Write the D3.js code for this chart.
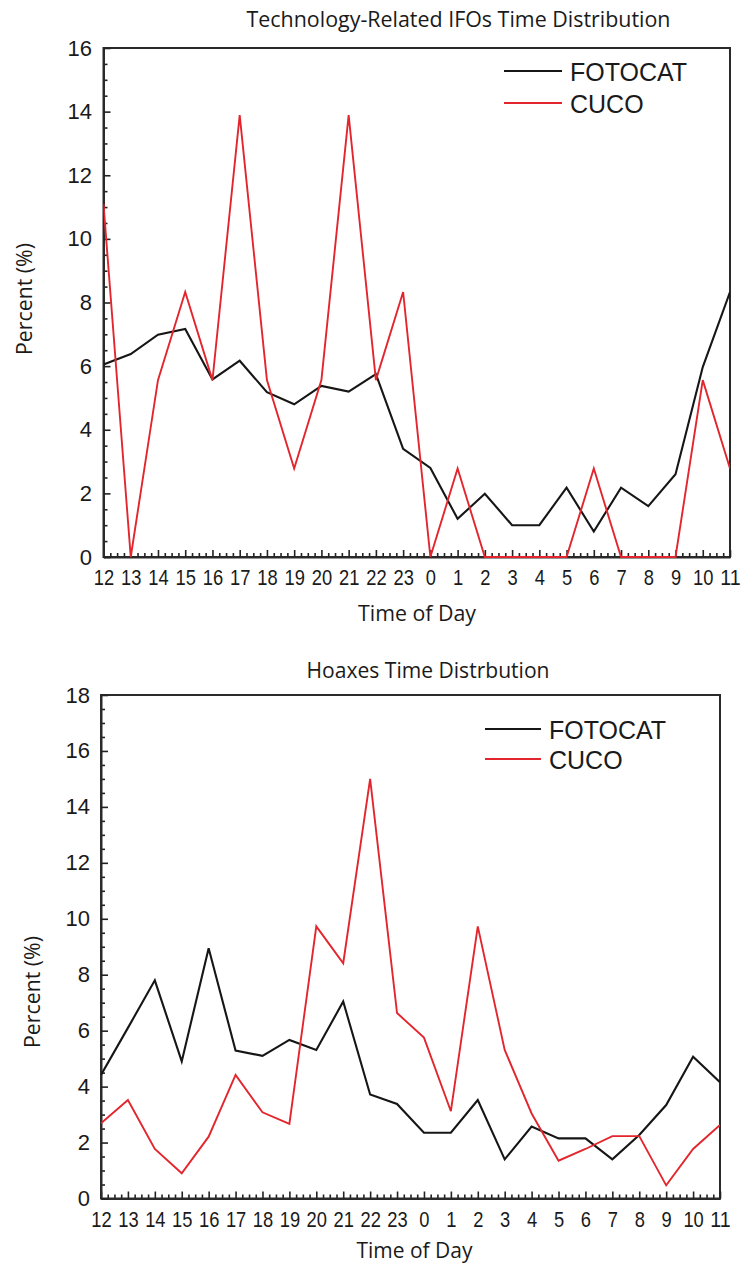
<!DOCTYPE html>
<html>
<head>
<meta charset="utf-8">
<script src="https://cdn.jsdelivr.net/npm/d3@7"></script>
<style>
  html, body { margin: 0; padding: 0; background: #fff; }
  svg { display: block; }
</style>
</head>
<body>
<svg id="chart" width="742" height="1266"></svg>
<script>
// ---------- DATA ----------
const hours = ["12","13","14","15","16","17","18","19","20","21","22","23","0","1","2","3","4","5","6","7","8","9","10","11"];
const seriesNames = ["FOTOCAT", "CUCO"];

const techTitle = "Technology-Related IFOs Time Distribution";
const techFotocat = [6.05, 6.38, 6.99, 7.17, 5.58, 6.17, 5.18, 4.8, 5.38, 5.2, 5.75, 3.4, 2.8, 1.2, 1.99, 1.0, 1.0, 2.18, 0.8, 2.18, 1.6, 2.6, 5.97, 8.33];
const techCuco    = [11.1, 0, 5.56, 8.33, 5.56, 13.89, 5.56, 2.78, 5.56, 13.89, 5.56, 8.33, 0, 2.78, 0, 0, 0, 0, 2.78, 0, 0, 0, 5.56, 2.78];
const techYTicks  = [0, 2, 4, 6, 8, 10, 12, 14, 16];

const hoaxTitle = "Hoaxes Time Distrbution";
const hoaxFotocat = [4.42, 6.1, 7.8, 4.9, 8.95, 5.29, 5.1, 5.67, 5.31, 7.04, 3.72, 3.38, 2.35, 2.35, 3.52, 1.4, 2.57, 2.15, 2.15, 1.4, 2.27, 3.34, 5.07, 4.16];
const hoaxCuco    = [2.69, 3.52, 1.77, 0.9, 2.21, 4.42, 3.08, 2.67, 9.73, 8.41, 15.0, 6.63, 5.75, 3.12, 9.73, 5.31, 3.04, 1.35, 1.77, 2.23, 2.23, 0.47, 1.77, 2.63];
const hoaxYTicks  = [0, 2, 4, 6, 8, 10, 12, 14, 16, 18];

const xLabel = "Time of Day";
const yLabel = "Percent (%)";

// ---------- DRAW ----------
const svg = d3.select("#chart");
const colors = { FOTOCAT: "#161616", CUCO: "#e3262e" };
const tickFont = "'Liberation Sans', Arial, sans-serif";
const labelFont = "'Open Sans', 'Noto Sans', sans-serif";

function panel(cfg) {
  const g = svg.append("g");
  const x = d3.scaleLinear().domain([0, hours.length - 1]).range([cfg.left, cfg.right]);
  const yMax = cfg.yTicks[cfg.yTicks.length - 1];
  const y = d3.scaleLinear().domain([0, yMax]).range([cfg.bottom, cfg.top]);

  // frame
  g.append("rect")
    .attr("x", cfg.left).attr("y", cfg.top)
    .attr("width", cfg.right - cfg.left).attr("height", cfg.bottom - cfg.top)
    .attr("fill", "none").attr("stroke", "#2a2a2a").attr("stroke-width", 2);

  // x minor ticks
  const xMinor = [];
  for (let i = 0; i < hours.length - 1; i++) for (let k = 1; k < 4; k++) xMinor.push(i + k / 4);
  const xMinorAxis = d3.axisBottom(x).tickValues(xMinor).tickSize(-4).tickSizeOuter(0).tickFormat("");
  const gxm = g.append("g").attr("transform", `translate(0,${cfg.bottom})`).call(xMinorAxis);
  gxm.select(".domain").remove();
  gxm.selectAll("line").attr("stroke", "#222").attr("stroke-width", 1.6);

  // x major ticks with labels
  const xAxis = d3.axisBottom(x).tickValues(d3.range(hours.length)).tickSize(-7).tickSizeOuter(0)
    .tickPadding(cfg.xPad).tickFormat(i => hours[i]);
  const gx = g.append("g").attr("transform", `translate(0,${cfg.bottom})`).call(xAxis);
  gx.select(".domain").attr("stroke", "#2a2a2a").attr("stroke-width", 2);
  gx.selectAll("line").attr("stroke", "#222").attr("stroke-width", 1.6);
  gx.selectAll("text")
    .attr("fill", "#1a1a1a")
    .style("font-family", tickFont).style("font-size", "22px")
    .attr("textLength", d => hours[d].length * 10.2)
    .attr("lengthAdjust", "spacingAndGlyphs");

  // y minor ticks
  const yMinor = d3.range(0, yMax, 0.5).filter(v => v % 2 !== 0);
  const yMinorAxis = d3.axisLeft(y).tickValues(yMinor).tickSize(-4).tickSizeOuter(0).tickFormat("");
  const gym = g.append("g").attr("transform", `translate(${cfg.left},0)`).call(yMinorAxis);
  gym.select(".domain").remove();
  gym.selectAll("line").attr("stroke", "#222").attr("stroke-width", 1.6);

  // y major
  const yAxis = d3.axisLeft(y).tickValues(cfg.yTicks).tickSize(-7).tickSizeOuter(0).tickPadding(cfg.yPad);
  const gy = g.append("g").attr("transform", `translate(${cfg.left},0)`).call(yAxis);
  gy.select(".domain").attr("stroke", "#2a2a2a").attr("stroke-width", 2);
  gy.selectAll("line").attr("stroke", "#222").attr("stroke-width", 1.6);
  gy.selectAll("text").attr("fill", "#1a1a1a")
    .style("font-family", tickFont).style("font-size", "22px");

  // lines
  const line = d3.line().x((d, i) => x(i)).y(d => y(d));
  const clipId = "clip" + cfg.id;
  g.append("clipPath").attr("id", clipId).append("rect")
    .attr("x", cfg.left).attr("y", cfg.top - 1)
    .attr("width", cfg.right - cfg.left).attr("height", cfg.bottom - cfg.top + 2);
  const series = [
    { name: "FOTOCAT", values: cfg.fotocat },
    { name: "CUCO", values: cfg.cuco }
  ];
  g.append("g").attr("clip-path", `url(#${clipId})`)
    .selectAll("path.series").data(series).join("path")
    .attr("class", "series")
    .attr("d", d => line(d.values))
    .attr("fill", "none")
    .attr("stroke", d => colors[d.name])
    .attr("stroke-width", d => d.name === "CUCO" ? 1.9 : 2.1)
    .attr("stroke-linejoin", "miter");

  // legend
  const lg = g.append("g");
  seriesNames.forEach((name, i) => {
    const ly = cfg.legY + i * cfg.legDy;
    lg.append("line")
      .attr("x1", cfg.legX).attr("x2", cfg.legX + cfg.legLen)
      .attr("y1", ly).attr("y2", ly)
      .attr("stroke", colors[name]).attr("stroke-width", 2);
    lg.append("text")
      .attr("x", cfg.legX + cfg.legLen + 8).attr("y", ly + 9.5)
      .attr("fill", "#1a1a1a")
      .style("font-family", tickFont).style("font-size", "25px")
      .text(name);
  });

  // title
  g.append("text")
    .attr("x", cfg.titleX).attr("y", cfg.titleY)
    .attr("text-anchor", "middle").attr("fill", "#1a1a1a")
    .style("font-family", labelFont).style("font-size", "21px")
    .attr("textLength", cfg.titleW).attr("lengthAdjust", "spacingAndGlyphs")
    .text(cfg.title);

  // x label
  g.append("text")
    .attr("x", cfg.xlabX).attr("y", cfg.xlabY)
    .attr("text-anchor", "middle").attr("fill", "#1a1a1a")
    .style("font-family", labelFont).style("font-size", "22px")
    .attr("textLength", cfg.xlabW).attr("lengthAdjust", "spacingAndGlyphs")
    .text(xLabel);

  // y label
  g.append("text")
    .attr("transform", `translate(${cfg.ylabX},${cfg.ylabY}) rotate(-90)`)
    .attr("text-anchor", "middle").attr("fill", "#1a1a1a")
    .style("font-family", labelFont).style("font-size", "22px")
    .attr("textLength", 112).attr("lengthAdjust", "spacingAndGlyphs")
    .text(yLabel);
}

panel({
  id: "a", left: 103.5, right: 730, top: 48, bottom: 557,
  yTicks: techYTicks, fotocat: techFotocat, cuco: techCuco,
  xPad: 12.5, yPad: 11.5,
  legX: 504, legY: 71, legDy: 32, legLen: 58,
  title: techTitle, titleX: 458.5, titleY: 27, titleW: 424,
  xlabX: 417, xlabY: 621, xlabW: 118,
  ylabX: 32, ylabY: 299
});

panel({
  id: "b", left: 101, right: 720, top: 695, bottom: 1198.5,
  yTicks: hoaxYTicks, fotocat: hoaxFotocat, cuco: hoaxCuco,
  xPad: 13, yPad: 11,
  legX: 485, legY: 729, legDy: 30, legLen: 56,
  title: hoaxTitle, titleX: 428, titleY: 678, titleW: 243,
  xlabX: 414.5, xlabY: 1258, xlabW: 116,
  ylabX: 40, ylabY: 992
});
</script>
</body>
</html>
